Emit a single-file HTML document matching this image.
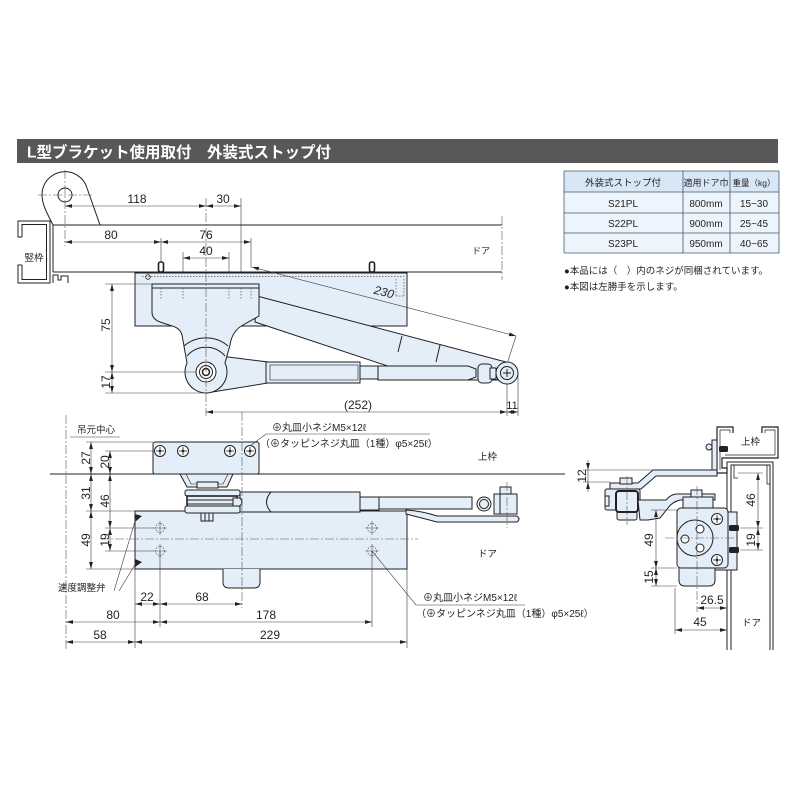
<!DOCTYPE html>
<html><head><meta charset="utf-8"><title>door closer</title>
<style>
html,body{margin:0;padding:0;background:#fff;width:800px;height:800px;overflow:hidden}
svg{display:block}
text{font-family:"Liberation Sans","Noto Sans CJK JP",sans-serif;fill:#231f20}
.o{fill:none;stroke:#231f20;stroke-width:1}
.f{fill:#e3eef9;stroke:#231f20;stroke-width:1}
.w{fill:#fff;stroke:#231f20;stroke-width:1}
.d{fill:none;stroke:#3a3a3a;stroke-width:.6}
.a{fill:none;stroke:#3a3a3a;stroke-width:.6;marker-start:url(#ar);marker-end:url(#ar)}
.c{fill:none;stroke:#555;stroke-width:.6;stroke-dasharray:9 2 2 2}
.h{fill:none;stroke:#555;stroke-width:.7;stroke-dasharray:1.5 1.5}
.n{font-size:12px}
.j{font-size:9.5px}
.k{font-size:10px}
.m{text-anchor:middle}
</style></head><body>
<svg xmlns="http://www.w3.org/2000/svg" width="800" height="800" viewBox="0 0 800 800">
<defs>
<marker id="ar" markerWidth="7" markerHeight="5" refX="7" refY="2.5" orient="auto-start-reverse" markerUnits="userSpaceOnUse"><path d="M0,.6L7,2.5L0,4.4z" fill="#222"/></marker>
<g id="sc"><circle r="5.5" fill="#fff" stroke="#231f20" stroke-width="1"/><path d="M-4,0H4M0,-4V4" stroke="#231f20" stroke-width=".8"/><path d="M0,-1.8L1.8,0L0,1.8L-1.8,0Z" fill="#231f20"/></g>
<g id="hl"><circle r="4.5" fill="none" stroke="#555" stroke-width=".7" stroke-dasharray="1.5 1.2"/><path d="M-7,0H7M0,-7V7" stroke="#555" stroke-width=".6"/></g>
</defs>

<!-- TITLE -->
<rect x="17" y="139" width="761" height="24" fill="#595757"/>
<text x="27" y="157.5" style="font-size:15.5px;font-weight:bold;fill:#fff">L型ブラケット使用取付　外装式ストップ付</text>

<!-- TABLE -->
<rect x="564" y="171" width="215" height="21" fill="#d8e7f5"/>
<rect x="564" y="192" width="215" height="61" fill="#edf4fb"/>
<path d="M564,171H779M564,192H779M564,213H779M564,233H779M564,253H779M564,171V253M683,171V253M730,171V253M779,171V253" stroke="#44586e" stroke-width=".8" fill="none"/>
<text x="623" y="186" class="m" style="font-size:9.5px">外装式ストップ付</text>
<text x="706" y="186" class="m" style="font-size:9px">適用ドア巾</text>
<text x="754" y="186" class="m" style="font-size:8.5px">重量（kg）</text>
<text x="623" y="207" class="m" style="font-size:10px">S21PL</text>
<text x="706" y="207" class="m" style="font-size:10px">800mm</text>
<text x="754" y="207" class="m" style="font-size:10px">15~30</text>
<text x="623" y="227" class="m" style="font-size:10px">S22PL</text>
<text x="706" y="227" class="m" style="font-size:10px">900mm</text>
<text x="754" y="227" class="m" style="font-size:10px">25~45</text>
<text x="623" y="247" class="m" style="font-size:10px">S23PL</text>
<text x="706" y="247" class="m" style="font-size:10px">950mm</text>
<text x="754" y="247" class="m" style="font-size:10px">40~65</text>
<text x="564" y="274" class="j">●本品には（　）内のネジが同梱されています。</text>
<text x="564" y="290" class="j">●本図は左勝手を示します。</text>

<!-- TOP VIEW -->
<path class="o" d="M22,237H18V221H50V283H18V265H22"/>
<path class="o" d="M22,237V224.5H46.5V279.5H22V265"/>
<path class="o" d="M53,283V275H58V280H61V276H68V283"/>
<text x="34" y="261" class="j m">竪枠</text>
<path class="o" d="M53,272V225C48,215 42,205 42,195A23,23 0 0 1 87,188L100,225"/>
<circle cx="65" cy="195" r="7" class="o"/>
<path class="o" d="M53,225H502M53,272H502"/>
<text x="472" y="254" style="font-size:9px">ドア</text>

<path class="a" d="M65,206H206"/><text x="137" y="203" class="n m">118</text>
<path class="a" d="M206,206H241"/><text x="223" y="203" class="n m">30</text>
<path class="a" d="M65,242H161"/><text x="111" y="239" class="n m">80</text>
<path class="a" d="M161,242H251"/><text x="206" y="239" class="n m">76</text>
<path class="a" d="M183,258H229"/><text x="206" y="255" class="n m">40</text>
<path class="d" d="M241,198V273M251,238V268M161,238V262M183,252V273M229,252V273"/>

<rect x="135" y="273" width="272" height="53" class="f"/>
<path class="h" d="M142,276.5H404"/>
<circle cx="148" cy="277" r="2.3" class="o" style="stroke-width:.8"/>
<rect x="158.5" y="262" width="5" height="10" rx="2" class="w" style="stroke-width:1.6"/>
<rect x="369.5" y="262" width="5" height="10" rx="2" class="w" style="stroke-width:1.6"/>
<path class="h" d="M396,279V296M404,279V296M396,296H404"/>

<path class="f" d="M257,296L506,362L506,380L430,380L255,322Z"/>
<path class="o" d="M402,336L398,352M440,345L436,362"/>
<path class="f" d="M212,355L268,362L268,383L206,393Z"/>
<path class="f" d="M152,284H259V316L243,325Q232,331 230,345L225,363A21,21 0 1 1 187,363L182,335Q180,328 172,326L160,322Q152,319 152,312Z"/>
<path class="o" d="M152,288H259"/>
<path class="h" d="M161,288V300M183,288V300M229,288V300M241,288V300M251,288V300"/>
<path class="o" d="M184,346A34,34 0 0 1 228,346M187,356A25,25 0 0 1 225,356"/>
<circle cx="206" cy="372" r="10" class="w"/>
<circle cx="206" cy="372" r="6.5" class="o"/>
<circle cx="206" cy="372" r="3.5" class="o" style="stroke-width:1.5"/>
<rect x="266" y="362" width="94" height="21" class="f"/>
<rect x="270" y="365" width="88" height="15" class="o" style="stroke-width:.6"/>
<rect x="360" y="366" width="18" height="13" class="f"/>
<path class="f" d="M378,366H468L476,369V377L468,380H378Z"/>
<rect x="478" y="364" width="14" height="19" rx="4" class="f"/>
<rect x="490" y="368" width="6" height="11" class="f"/>
<circle cx="507" cy="373" r="11" class="f"/>
<circle cx="507" cy="373" r="6.5" class="o"/>
<path class="o" d="M503,373H511M507,369V377"/>

<path class="c" d="M38,195H94M65,170V246M502,216V280M206,198V416"/>
<path class="d" d="M105,284H152M105,372H196M105,393H206M507,384V416M518,373V416M516,336L508,361"/>
<path class="a" d="M112,284V372"/><path class="a" d="M112,372V393"/>
<text transform="translate(110,325) rotate(-90)" class="n m">75</text>
<text transform="translate(110,382) rotate(-90)" class="n m">17</text>
<path class="a" d="M206,412H507"/><text x="358" y="409" class="n m">(252)</text>
<path class="a" d="M507,412H518"/><text x="512" y="409" class="m" style="font-size:11px">11</text>
<path class="a" d="M252,267L516,336"/>
<text transform="translate(383,296) rotate(14.6)" class="n m" style="font-style:italic">230</text>

<!-- BOTTOM LEFT (FRONT) VIEW -->
<text x="77" y="433" class="j">吊元中心</text>
<path class="d" d="M70,437H120"/>
<path class="o" d="M50,474H565"/>
<text x="478" y="460" class="j">上枠</text>
<text x="478" y="557" class="j">ドア</text>

<rect x="135" y="511" width="272" height="58" class="f"/>
<path class="f" d="M223,569V582Q223,588 229,588H254Q260,588 260,582V569"/>
<rect x="153" y="442" width="106" height="32" rx="2" class="f"/>
<use href="#sc" x="160" y="451"/><use href="#sc" x="183" y="451"/><use href="#sc" x="230" y="451"/><use href="#sc" x="250" y="451"/>
<path class="f" d="M180,474L187,487H227L233,474Z"/>
<path class="o" d="M186,474L191,484H223L228,474" style="stroke-width:.6"/>
<rect x="197" y="482" width="21" height="6" class="f"/>

<rect x="240" y="492" width="120" height="20" class="f"/>
<path class="o" d="M271,492Q262,502 271,512"/>
<rect x="360" y="497" width="19" height="13" class="f"/>
<rect x="379" y="497" width="93" height="12" class="f"/>
<path class="f" d="M406,510Q422,511 437,516H517Q521,519 517,522H437Q422,518 406,514Z"/>
<circle cx="484" cy="504" r="7" class="f"/>
<circle cx="484" cy="504" r="4.5" class="o"/>
<rect x="494" y="494" width="23" height="20" class="f"/>
<path class="o" d="M500,494V514"/>
<rect x="500" y="487" width="11" height="7" class="f"/>

<rect x="185" y="490" width="55" height="6" rx="2" class="f"/>
<rect x="187" y="496" width="50" height="11" class="f" style="stroke-width:1.6"/>
<path class="o" d="M187,500H237M187,504H237"/>
<path class="f" d="M233,498H240Q244,502 240,506H233Z"/>
<rect x="185" y="506" width="55" height="7" rx="2" class="f"/>
<rect x="201" y="513" width="12" height="8" class="f"/>
<path class="o" d="M205,513V521M209,513V521"/>

<use href="#hl" x="160" y="528"/><use href="#hl" x="160" y="551"/><use href="#hl" x="372" y="528"/><use href="#hl" x="372" y="551"/>
<polygon points="135,514 142,516 135,522" fill="#222"/>
<polygon points="135,559 142,562 135,567" fill="#222"/>
<path class="d" d="M114,591L136,518M119,591L136,563"/>
<text x="58" y="591" class="j">速度調整弁</text>

<path class="c" d="M66,415V650M242,412V608M100,539H418M507,482V528"/>
<path class="d" d="M86,442H153M105,451H154M86,511H135M105,528H154M105,551H154M86,569H135"/>
<path class="a" d="M91,442V474"/><path class="a" d="M91,474V511"/><path class="a" d="M91,511V569"/>
<path class="a" d="M110,451V474"/><path class="a" d="M110,474V528"/><path class="a" d="M110,528V551"/>
<text transform="translate(90,458) rotate(-90)" class="n m">27</text>
<text transform="translate(90,493) rotate(-90)" class="n m">31</text>
<text transform="translate(90,540) rotate(-90)" class="n m">49</text>
<text transform="translate(109,462) rotate(-90)" class="n m">20</text>
<text transform="translate(109,501) rotate(-90)" class="n m">46</text>
<text transform="translate(109,540) rotate(-90)" class="n m">19</text>

<path class="d" d="M135,569V648M160,551V627M372,551V627M407,569V648"/>
<path class="a" d="M135,604H160"/><text x="147" y="601" class="n m">22</text>
<path class="a" d="M160,604H242"/><text x="202" y="601" class="n m">68</text>
<path class="a" d="M66,622H160"/><text x="113" y="619" class="n m">80</text>
<path class="a" d="M160,622H372"/><text x="266" y="619" class="n m">178</text>
<path class="a" d="M66,642H135"/><text x="100" y="639" class="n m">58</text>
<path class="a" d="M135,642H407"/><text x="270" y="639" class="n m">229</text>

<path class="d" d="M250,446L266,434H430"/>
<text x="272" y="431" class="k">⊕丸皿小ネジM5×12ℓ</text>
<text x="260" y="447" class="k">（⊕タッピンネジ丸皿（1種）φ5×25ℓ）</text>
<path class="d" d="M372,551L416,605H525"/>
<text x="423" y="601" class="k">⊕丸皿小ネジM5×12ℓ</text>
<text x="416" y="617" class="k">（⊕タッピンネジ丸皿（1種）φ5×25ℓ）</text>

<!-- RIGHT (SIDE) VIEW -->
<path class="o" d="M733,433V427H717V473H727V468H722V458H778V427H762V433" style="stroke-width:1.2"/>
<path class="o" d="M730,433V430H720V470M725,455H775V430H765V433" style="stroke-width:.7"/>
<text x="741" y="445" class="j">上枠</text>
<path class="o" d="M727,650V462H773V650M731,650V465H770V650" style="stroke-width:1"/>
<path class="o" d="M734,465V478H738M767,465V484H770" style="stroke-width:.8"/>
<text x="742" y="626" class="j">ドア</text>

<rect x="712" y="440" width="5" height="34" class="f"/>
<circle cx="709" cy="447" r="3" class="f"/>
<rect x="719" y="446" width="9" height="6" rx="1.5" fill="#222"/>
<path class="f" d="M717,470H653L638,483H610V489H641L656,476H717Z"/>
<rect x="620" y="478" width="12" height="6" class="f"/>
<rect x="605" y="489" width="35" height="21" rx="2" class="f"/>
<rect x="605" y="496" width="4" height="10" class="o"/>
<rect x="617" y="510" width="20" height="10" rx="2" class="f"/>
<rect x="616" y="491" width="22" height="21" rx="3" class="f" style="stroke-width:2"/>

<path class="f" d="M638,500H666Q670,495 676,494H715V500H680Q672,502 668,508L660,518L648,520H640Z"/>
<rect x="713" y="512" width="24" height="58" class="f"/>
<rect x="683" y="497" width="30" height="12" class="f"/>
<rect x="691" y="490" width="11" height="7" class="f"/>
<path class="f" d="M679,566V580Q679,586 685,586H709Q715,586 715,580V566"/>
<rect x="677" y="508" width="51" height="60" rx="4" class="f"/>
<circle cx="695" cy="538" r="18" class="f"/>
<circle cx="700" cy="529" r="4" class="w"/>
<circle cx="685" cy="539" r="4" class="w"/>
<circle cx="700" cy="548" r="4" class="w"/>
<use href="#sc" x="717" y="519"/><use href="#sc" x="717" y="560"/>
<rect x="729" y="525" width="10" height="6" rx="1.5" fill="#222"/>
<rect x="729" y="547" width="10" height="6" rx="1.5" fill="#222"/>

<path class="c" d="M627,476V525M697,486V612M665,538H740"/>
<path class="d" d="M583,470H653M583,482H610M651,510H677M651,568H677M651,586H677M738,473H763M740,528H763M740,550H763M675,588V634"/>
<path class="d" d="M588,460V470" marker-end="url(#ar)"/>
<path class="d" d="M588,492V482" marker-end="url(#ar)"/>
<path class="d" d="M588,470V482"/>
<text transform="translate(586,476) rotate(-90)" class="n m">12</text>
<path class="a" d="M656,510V568"/><path class="a" d="M656,568V586"/>
<text transform="translate(653,540) rotate(-90)" class="n m">49</text>
<text transform="translate(653,577) rotate(-90)" class="n m">15</text>
<path class="a" d="M758,473V528"/><path class="a" d="M758,528V550"/>
<text transform="translate(755,500) rotate(-90)" class="n m">46</text>
<text transform="translate(755,540) rotate(-90)" class="n m">19</text>
<path class="a" d="M697,608H727"/><text x="712" y="604" class="n m">26.5</text>
<path class="a" d="M675,630H727"/><text x="700" y="626" class="n m">45</text>
</svg>
</body></html>
